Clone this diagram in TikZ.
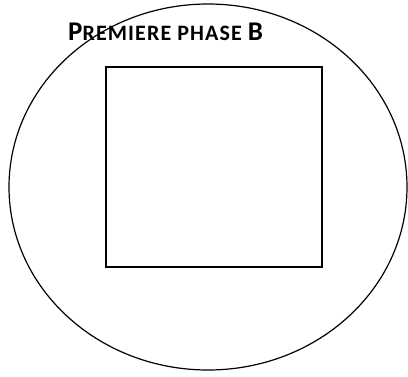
\documentclass[tikz,border=0pt]{standalone}
\usepackage{fontspec}
\setmainfont{Carlito}
\usetikzlibrary{shapes.geometric}

\begin{document}
\begin{tikzpicture}[
  x=1pt, y=-1pt,
  contour/.style={draw=black, line width=1.2pt, ellipse, inner sep=0pt},
  cadre/.style={draw=black, line width=1.3pt, rectangle, inner sep=0pt},
  titre/.style={font=\bfseries, inner sep=0pt, anchor=base west}
]
\useasboundingbox (0,0) rectangle (408,376);
\node[contour, minimum width=398pt, minimum height=366pt] (phase) at (208,187) {};
\node[cadre, minimum width=216pt, minimum height=200pt] (zone) at (214,167) {};
\node[titre] (nom) at (68,40) {\fontsize{27}{27}\selectfont P\fontsize{22}{22}\selectfont\addfontfeature{LetterSpace=5}REMIERE PHASE \fontsize{27}{27}\selectfont B};
\end{tikzpicture}
\end{document}
